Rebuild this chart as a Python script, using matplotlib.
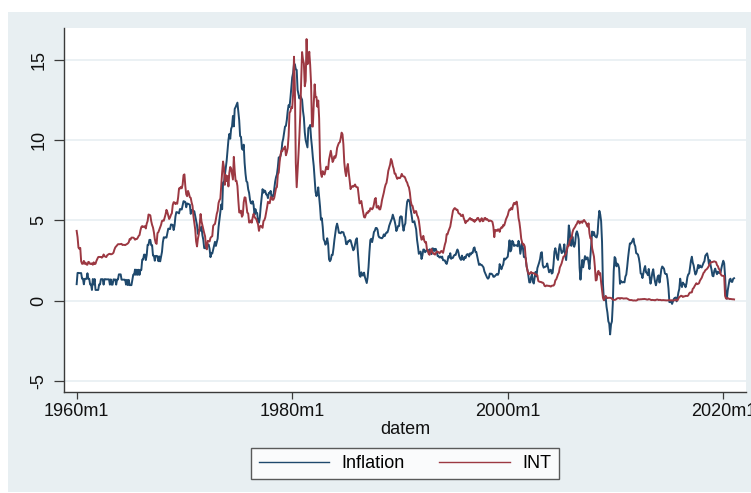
import matplotlib
matplotlib.use("Agg")
import matplotlib.pyplot as plt
from matplotlib.patches import Rectangle
import numpy as np

# Monthly series, 1960m1 .. 2021m1
inflation = [
    1.03, 1.73, 1.73, 1.72, 1.72, 1.72, 1.37, 1.37, 1.02, 1.36, 1.36, 1.36,  # 1960
    1.71, 1.36, 1.36, 1.01, 1.01, 0.67, 1.35, 1.01, 1.35, 0.67, 0.67, 0.67,  # 1961
    0.67, 1.01, 1.01, 1.34, 1.34, 1.34, 1.00, 1.34, 1.34, 1.33, 1.33, 1.33,  # 1962
    1.33, 1.00, 1.33, 1.00, 1.00, 1.33, 1.32, 1.32, 1.00, 1.32, 1.32, 1.64,  # 1963
    1.64, 1.64, 1.31, 1.31, 1.31, 1.31, 1.30, 1.00, 1.30, 0.97, 1.30, 0.97,  # 1964
    0.97, 0.97, 1.29, 1.62, 1.62, 1.94, 1.61, 1.93, 1.61, 1.93, 1.61, 1.92,  # 1965
    1.92, 2.56, 2.56, 2.87, 2.87, 2.53, 2.85, 3.48, 3.48, 3.79, 3.79, 3.46,  # 1966
    3.46, 2.81, 2.80, 2.49, 2.79, 2.79, 2.77, 2.46, 2.76, 2.45, 2.74, 3.04,  # 1967
    3.65, 3.95, 3.94, 3.94, 3.93, 4.20, 4.49, 4.48, 4.46, 4.75, 4.74, 4.72,  # 1968
    4.40, 4.68, 5.25, 5.52, 5.51, 5.48, 5.44, 5.71, 5.70, 5.68, 5.93, 6.20,  # 1969
    6.18, 6.15, 5.82, 6.06, 6.04, 6.01, 5.98, 5.41, 5.66, 5.63, 5.60, 5.57,  # 1970
    5.29, 5.00, 4.71, 4.16, 4.40, 4.38, 4.36, 4.62, 4.08, 3.80, 3.28, 3.27,  # 1971
    3.27, 3.51, 3.50, 3.49, 3.23, 2.71, 2.95, 2.94, 3.19, 3.42, 3.67, 3.41,  # 1972
    3.65, 3.87, 4.59, 5.06, 5.53, 5.99, 5.70, 7.38, 7.36, 7.80, 8.25, 8.71,  # 1973
    9.39, 10.02, 10.39, 10.09, 10.71, 10.86, 11.51, 10.86, 11.95, 12.06, 12.20, 12.34,  # 1974
    11.80, 11.23, 10.25, 10.21, 9.47, 9.40, 9.72, 8.60, 7.91, 7.44, 7.38, 6.94,  # 1975
    6.72, 6.29, 6.07, 6.05, 6.20, 5.97, 5.35, 5.71, 5.50, 5.46, 4.88, 4.86,  # 1976
    5.21, 5.91, 6.44, 6.95, 6.73, 6.87, 6.83, 6.62, 6.60, 6.39, 6.72, 6.70,  # 1977
    6.84, 6.43, 6.55, 6.50, 6.97, 7.41, 7.70, 7.87, 8.31, 8.93, 8.89, 9.03,  # 1978
    9.28, 9.86, 10.09, 10.49, 10.85, 10.89, 11.26, 11.82, 12.18, 12.07, 12.61, 13.29,  # 1979
    13.91, 14.18, 14.76, 14.73, 14.41, 14.38, 13.13, 12.87, 12.60, 12.77, 12.65, 12.52,  # 1980
    11.83, 11.41, 10.49, 10.00, 9.78, 9.55, 10.76, 10.80, 10.95, 10.14, 9.59, 8.92,  # 1981
    8.39, 7.62, 6.78, 6.51, 6.68, 7.06, 6.44, 5.85, 5.04, 5.14, 4.59, 3.83,  # 1982
    3.71, 3.49, 3.60, 3.89, 3.55, 2.58, 2.46, 2.56, 2.86, 2.85, 3.27, 3.79,  # 1983
    4.19, 4.60, 4.80, 4.56, 4.23, 4.22, 4.20, 4.29, 4.27, 4.26, 4.05, 3.95,  # 1984
    3.53, 3.52, 3.70, 3.69, 3.78, 3.76, 3.55, 3.35, 3.14, 3.23, 3.51, 3.80,  # 1985
    3.89, 3.11, 2.26, 1.59, 1.49, 1.77, 1.58, 1.57, 1.75, 1.47, 1.28, 1.10,  # 1986
    1.46, 2.10, 3.03, 3.78, 3.86, 3.65, 3.93, 4.28, 4.36, 4.53, 4.53, 4.43,  # 1987
    4.05, 3.94, 3.93, 3.90, 3.89, 3.96, 4.13, 4.02, 4.17, 4.25, 4.25, 4.42,  # 1988
    4.67, 4.83, 4.98, 5.11, 5.36, 5.17, 4.98, 4.71, 4.34, 4.49, 4.66, 4.65,  # 1989
    5.20, 5.26, 5.23, 4.71, 4.36, 4.67, 4.82, 5.62, 6.16, 6.29, 6.27, 6.11,  # 1990
    5.65, 5.31, 4.90, 4.89, 4.95, 4.70, 4.45, 3.80, 3.39, 2.92, 2.99, 3.06,  # 1991
    2.60, 2.82, 3.19, 3.18, 3.02, 3.09, 3.16, 3.15, 2.99, 3.20, 3.05, 2.90,  # 1992
    3.26, 3.25, 3.09, 3.23, 3.22, 3.00, 2.78, 2.77, 2.69, 2.75, 2.68, 2.75,  # 1993
    2.52, 2.52, 2.51, 2.36, 2.29, 2.49, 2.77, 2.69, 2.96, 2.61, 2.67, 2.67,  # 1994
    2.80, 2.86, 2.85, 3.05, 3.19, 3.04, 2.76, 2.62, 2.54, 2.81, 2.61, 2.54,  # 1995
    2.73, 2.65, 2.84, 2.90, 2.89, 2.75, 2.95, 2.88, 3.00, 2.99, 3.26, 3.32,  # 1996
    3.04, 3.03, 2.76, 2.50, 2.23, 2.30, 2.23, 2.23, 2.15, 2.08, 1.83, 1.70,  # 1997
    1.57, 1.44, 1.37, 1.44, 1.69, 1.68, 1.68, 1.62, 1.49, 1.49, 1.55, 1.61,  # 1998
    1.67, 1.61, 1.73, 2.28, 2.09, 1.96, 2.14, 2.26, 2.63, 2.56, 2.62, 2.68,  # 1999
    2.74, 3.22, 3.76, 3.07, 3.19, 3.73, 3.66, 3.41, 3.45, 3.45, 3.45, 3.39,  # 2000
    3.73, 3.53, 2.92, 3.27, 3.62, 3.25, 2.72, 2.72, 2.65, 2.13, 1.90, 1.55,  # 2001
    1.14, 1.14, 1.48, 1.64, 1.18, 1.07, 1.46, 1.80, 1.51, 2.03, 2.20, 2.38,  # 2002
    2.60, 2.98, 3.02, 2.22, 2.06, 2.11, 2.11, 2.16, 2.32, 2.04, 1.77, 1.88,  # 2003
    1.93, 1.69, 1.74, 2.29, 3.05, 3.27, 2.99, 2.65, 2.54, 3.19, 3.52, 3.26,  # 2004
    2.97, 3.01, 3.15, 3.51, 2.80, 2.53, 3.17, 3.64, 4.69, 4.35, 3.46, 3.42,  # 2005
    3.99, 3.60, 3.36, 3.55, 4.17, 4.32, 4.15, 3.82, 2.06, 1.31, 1.97, 2.54,  # 2006
    2.08, 2.42, 2.78, 2.57, 2.69, 2.69, 2.36, 1.97, 2.76, 3.54, 4.31, 4.08,  # 2007
    4.28, 4.03, 3.98, 3.94, 4.18, 5.02, 5.60, 5.37, 4.94, 3.66, 1.07, 0.09,  # 2008
    0.03, 0.24, -0.38, -0.74, -1.28, -1.43, -2.10, -1.48, -1.29, -0.18, 1.84, 2.72,  # 2009
    2.63, 2.14, 2.31, 2.24, 2.02, 1.05, 1.24, 1.15, 1.14, 1.17, 1.14, 1.50,  # 2010
    1.63, 2.11, 2.68, 3.16, 3.57, 3.56, 3.63, 3.77, 3.87, 3.53, 3.39, 2.96,  # 2011
    2.93, 2.87, 2.65, 2.30, 1.70, 1.66, 1.41, 1.69, 1.99, 2.16, 1.76, 1.74,  # 2012
    1.59, 1.98, 1.47, 1.06, 1.36, 1.75, 1.96, 1.52, 1.18, 0.96, 1.24, 1.50,  # 2013
    1.58, 1.13, 1.51, 1.95, 2.13, 2.07, 1.99, 1.70, 1.66, 1.66, 1.32, 0.76,  # 2014
    -0.09, -0.03, -0.07, -0.20, -0.04, 0.12, 0.17, 0.20, -0.04, 0.17, 0.50, 0.73,  # 2015
    1.37, 1.02, 0.85, 1.13, 1.02, 1.01, 0.84, 1.06, 1.46, 1.64, 1.69, 2.07,  # 2016
    2.50, 2.74, 2.38, 2.20, 1.87, 1.63, 1.73, 1.94, 2.23, 2.04, 2.20, 2.11,  # 2017
    2.07, 2.21, 2.36, 2.46, 2.80, 2.87, 2.95, 2.70, 2.28, 2.52, 2.18, 1.91,  # 2018
    1.55, 1.52, 1.86, 2.00, 1.79, 1.65, 1.81, 1.75, 1.71, 1.76, 2.05, 2.29,  # 2019
    2.49, 2.33, 1.54, 0.33, 0.12, 0.65, 0.99, 1.31, 1.37, 1.18, 1.17, 1.36,  # 2020
    1.40,                                                                    # 2021
]

int_rate = [
    4.35, 3.96, 3.31, 3.23, 3.29, 2.46, 2.30, 2.30, 2.48, 2.30, 2.37, 2.25,  # 1960
    2.24, 2.42, 2.39, 2.29, 2.29, 2.33, 2.24, 2.39, 2.28, 2.30, 2.48, 2.60,  # 1961
    2.72, 2.73, 2.72, 2.73, 2.68, 2.73, 2.88, 2.78, 2.74, 2.72, 2.83, 2.87,  # 1962
    2.91, 2.92, 2.89, 2.90, 2.93, 2.99, 3.18, 3.32, 3.38, 3.45, 3.52, 3.52,  # 1963
    3.52, 3.53, 3.54, 3.47, 3.48, 3.48, 3.46, 3.50, 3.53, 3.57, 3.64, 3.84,  # 1964
    3.81, 3.93, 3.93, 3.93, 3.89, 3.80, 3.84, 3.84, 3.92, 4.03, 4.09, 4.38,  # 1965
    4.59, 4.65, 4.59, 4.62, 4.64, 4.50, 4.80, 4.96, 5.37, 5.35, 5.32, 4.96,  # 1966
    4.72, 4.56, 4.26, 3.84, 3.60, 3.54, 4.21, 4.27, 4.42, 4.56, 4.73, 4.97,  # 1967
    5.00, 4.98, 5.17, 5.38, 5.66, 5.52, 5.31, 5.09, 5.19, 5.35, 5.45, 5.96,  # 1968
    6.14, 6.12, 6.02, 6.11, 6.04, 6.44, 7.00, 6.98, 7.09, 7.00, 7.24, 7.82,  # 1969
    7.87, 7.13, 6.63, 6.51, 6.84, 6.68, 6.45, 6.41, 6.12, 5.91, 5.28, 4.87,  # 1970
    4.44, 3.70, 3.38, 3.86, 4.14, 4.75, 5.40, 4.94, 4.69, 4.46, 4.22, 4.01,  # 1971
    3.38, 3.20, 3.73, 3.71, 3.69, 3.91, 3.98, 4.02, 4.66, 4.74, 4.78, 5.07,  # 1972
    5.41, 5.60, 6.09, 6.26, 6.36, 7.19, 8.01, 8.67, 8.29, 7.22, 7.83, 7.45,  # 1973
    7.77, 7.12, 7.96, 8.33, 8.23, 7.90, 7.55, 8.96, 8.06, 7.46, 7.47, 7.15,  # 1974
    6.26, 5.50, 5.49, 5.61, 5.23, 5.34, 6.13, 6.44, 6.42, 5.96, 5.48, 5.44,  # 1975
    4.87, 4.88, 5.00, 4.86, 5.20, 5.41, 5.23, 5.14, 5.08, 4.92, 4.75, 4.35,  # 1976
    4.62, 4.67, 4.60, 4.54, 4.96, 5.02, 5.19, 5.49, 5.81, 6.16, 6.10, 6.07,  # 1977
    6.44, 6.45, 6.29, 6.29, 6.41, 6.73, 7.01, 7.08, 7.85, 7.99, 8.64, 9.08,  # 1978
    9.35, 9.32, 9.48, 9.46, 9.61, 9.06, 9.24, 9.52, 10.26, 11.70, 11.79, 12.04,  # 1979
    12.00, 12.86, 15.20, 13.20, 8.58, 7.07, 8.06, 9.13, 10.27, 11.62, 13.73, 15.49,  # 1980
    15.02, 14.79, 13.36, 13.69, 16.30, 14.73, 14.95, 15.51, 14.70, 13.54, 10.86, 10.85,  # 1981
    12.28, 13.48, 12.68, 12.70, 12.09, 12.47, 11.35, 8.68, 7.92, 7.71, 8.07, 7.94,  # 1982
    7.86, 8.11, 8.35, 8.21, 8.19, 8.79, 9.08, 9.34, 9.00, 8.64, 8.76, 9.00,  # 1983
    8.90, 9.09, 9.52, 9.69, 9.83, 9.87, 10.12, 10.47, 10.37, 9.74, 8.61, 8.06,  # 1984
    7.76, 8.27, 8.52, 7.95, 7.48, 6.95, 7.08, 7.14, 7.10, 7.16, 7.24, 7.10,  # 1985
    7.07, 7.06, 6.56, 6.06, 6.15, 6.21, 5.83, 5.53, 5.21, 5.18, 5.35, 5.49,  # 1986
    5.45, 5.59, 5.56, 5.76, 5.75, 5.69, 5.78, 6.00, 6.32, 6.40, 5.81, 5.80,  # 1987
    5.90, 5.69, 5.69, 5.92, 6.27, 6.50, 6.73, 7.02, 7.23, 7.34, 7.68, 8.09,  # 1988
    8.29, 8.48, 8.83, 8.70, 8.40, 8.22, 7.92, 7.91, 7.72, 7.59, 7.67, 7.64,  # 1989
    7.64, 7.74, 7.90, 7.77, 7.74, 7.73, 7.62, 7.45, 7.36, 7.17, 7.06, 6.74,  # 1990
    6.22, 5.94, 5.91, 5.65, 5.46, 5.57, 5.58, 5.33, 5.22, 4.99, 4.56, 4.07,  # 1991
    3.80, 3.84, 4.04, 3.75, 3.63, 3.66, 3.21, 3.13, 2.91, 2.86, 3.13, 3.22,  # 1992
    3.00, 2.93, 2.95, 2.87, 2.96, 3.07, 3.04, 3.02, 2.95, 3.02, 3.10, 3.06,  # 1993
    2.98, 3.25, 3.50, 3.68, 4.14, 4.14, 4.33, 4.48, 4.62, 4.95, 5.29, 5.60,  # 1994
    5.71, 5.77, 5.73, 5.65, 5.67, 5.47, 5.42, 5.40, 5.28, 5.28, 5.36, 5.14,  # 1995
    5.00, 4.83, 4.96, 4.95, 5.02, 5.09, 5.15, 5.05, 5.09, 4.99, 5.03, 4.91,  # 1996
    5.03, 5.01, 5.14, 5.16, 5.05, 4.93, 5.05, 5.14, 4.95, 4.97, 5.14, 5.16,  # 1997
    5.04, 5.09, 5.03, 4.95, 5.00, 4.98, 4.96, 4.90, 4.61, 3.96, 4.41, 4.39,  # 1998
    4.34, 4.44, 4.44, 4.29, 4.50, 4.57, 4.55, 4.72, 4.68, 4.86, 5.07, 5.20,  # 1999
    5.32, 5.55, 5.69, 5.66, 5.79, 5.69, 5.96, 6.09, 6.00, 6.11, 6.17, 5.77,  # 2000
    5.15, 4.88, 4.42, 3.87, 3.62, 3.49, 3.51, 3.36, 2.64, 2.16, 1.87, 1.69,  # 2001
    1.65, 1.73, 1.79, 1.72, 1.73, 1.70, 1.68, 1.62, 1.63, 1.58, 1.23, 1.19,  # 2002
    1.17, 1.17, 1.13, 1.13, 1.07, 0.92, 0.90, 0.95, 0.94, 0.92, 0.93, 0.90,  # 2003
    0.88, 0.93, 0.94, 0.94, 1.02, 1.27, 1.33, 1.48, 1.65, 1.76, 2.07, 2.19,  # 2004
    2.33, 2.54, 2.74, 2.78, 2.84, 2.97, 3.22, 3.44, 3.42, 3.71, 3.88, 3.89,  # 2005
    4.24, 4.43, 4.51, 4.60, 4.72, 4.79, 4.95, 4.96, 4.81, 4.92, 4.94, 4.85,  # 2006
    4.98, 5.03, 4.94, 4.87, 4.73, 4.61, 4.82, 4.20, 3.89, 3.90, 3.27, 3.00,  # 2007
    2.75, 2.12, 1.26, 1.29, 1.73, 1.86, 1.63, 1.72, 1.13, 0.67, 0.19, 0.03,  # 2008
    0.13, 0.30, 0.22, 0.16, 0.18, 0.18, 0.18, 0.17, 0.12, 0.07, 0.05, 0.05,  # 2009
    0.06, 0.11, 0.15, 0.16, 0.16, 0.12, 0.16, 0.16, 0.15, 0.13, 0.14, 0.14,  # 2010
    0.15, 0.13, 0.10, 0.06, 0.04, 0.04, 0.04, 0.02, 0.01, 0.02, 0.01, 0.01,  # 2011
    0.03, 0.09, 0.08, 0.08, 0.09, 0.09, 0.10, 0.10, 0.11, 0.10, 0.09, 0.07,  # 2012
    0.07, 0.10, 0.09, 0.06, 0.04, 0.05, 0.04, 0.04, 0.02, 0.05, 0.07, 0.07,  # 2013
    0.04, 0.05, 0.05, 0.03, 0.03, 0.04, 0.03, 0.03, 0.02, 0.02, 0.02, 0.03,  # 2014
    0.03, 0.02, 0.03, 0.02, 0.02, 0.02, 0.03, 0.07, 0.02, 0.02, 0.12, 0.23,  # 2015
    0.26, 0.31, 0.29, 0.23, 0.27, 0.27, 0.30, 0.30, 0.29, 0.33, 0.45, 0.51,  # 2016
    0.51, 0.52, 0.74, 0.79, 0.90, 0.99, 1.09, 1.03, 1.05, 1.09, 1.25, 1.34,  # 2017
    1.43, 1.59, 1.73, 1.79, 1.90, 1.94, 1.99, 2.07, 2.17, 2.29, 2.37, 2.41,  # 2018
    2.40, 2.44, 2.45, 2.43, 2.40, 2.22, 2.15, 1.99, 1.93, 1.68, 1.57, 1.55,  # 2019
    1.55, 1.54, 0.30, 0.14, 0.13, 0.16, 0.13, 0.10, 0.11, 0.10, 0.09, 0.09,  # 2020
    0.08,                                                                    # 2021
]

series_names = ["Inflation", "INT"]
x_tick_months = [0, 240, 480, 720]          # months since 1960m1
x_tick_labels = ["1960m1", "1980m1", "2000m1", "2020m1"]
y_ticks = [-5, 0, 5, 10, 15]
x_title = "datem"

# Stata s2color look
BG = "#e8eff2"
NAVY = "#1f496d"
MAROON = "#9c3842"
AXIS = "#3a3a3a"

plt.rcParams["font.family"] = ["Liberation Sans", "DejaVu Sans"]

W, H = 751, 493
fig = plt.figure(figsize=(W / 100, H / 100), dpi=100)
fig.patch.set_facecolor("white")

# graph region background, drawn beneath the axes
fig.patches.append(Rectangle((8 / W, 1 - 492 / H), (W - 8) / W, (492 - 12) / H,
                             transform=fig.transFigure, facecolor=BG,
                             edgecolor="none", zorder=-10))

left, right, top, bottom = 64, 746, 28, 391.7
ax = fig.add_axes([left / W, 1 - bottom / H, (right - left) / W, (bottom - top) / H])
ax.set_zorder(1)
ax.set_facecolor("white")

months = np.arange(len(inflation))
ax.plot(months, inflation, color=NAVY, lw=1.4, label=series_names[0], zorder=3)
ax.plot(np.arange(len(int_rate)), int_rate, color=MAROON, lw=1.4,
        label=series_names[1], zorder=3)

ax.set_xlim(-14.1, 745.3)
ax.set_ylim(-5.67, 16.99)

ax.set_xticks(x_tick_months)
ax.set_xticklabels(x_tick_labels)
ax.set_yticks(y_ticks)
ax.set_yticklabels([str(v) for v in y_ticks], rotation=90, va="center")

ax.grid(axis="y", color="#e6eef1", lw=1.1, zorder=1)
ax.grid(axis="x", visible=False)

for s in ["top", "right"]:
    ax.spines[s].set_visible(False)
for s in ["left", "bottom"]:
    ax.spines[s].set_color(AXIS)
    ax.spines[s].set_linewidth(1.0)

ax.tick_params(axis="y", length=7, width=0.9, color=AXIS, labelsize=13,
               labelcolor="#111111", pad=5)
ax.tick_params(axis="x", length=5, width=0.9, color=AXIS, labelsize=13,
               labelcolor="#111111", pad=3)

ax.set_xlabel(x_title, fontsize=13, color="#111111", labelpad=1)

leg = fig.legend(loc="center", bbox_to_anchor=(405 / W, 1 - 463.5 / H), ncol=2,
                 fontsize=13, frameon=True, fancybox=False, shadow=False,
                 handlelength=3.9, handletextpad=0.7, columnspacing=1.9,
                 borderpad=0.4)
leg.get_frame().set_edgecolor("#333333")
leg.get_frame().set_linewidth(1.0)
leg.get_frame().set_facecolor("white")
for line in leg.get_lines():
    line.set_linewidth(1.0)

fig.savefig("out.png", dpi=100)
